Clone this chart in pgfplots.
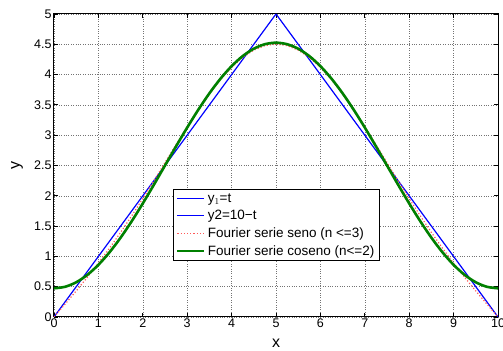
\documentclass[border=0pt]{standalone}
\usepackage{pgfplots}
\pgfplotsset{compat=1.18}
\usepackage{fontspec}
\setmainfont{Liberation Sans}

\definecolor{mblue}{rgb}{0,0,1}
\definecolor{mgreen}{rgb}{0,0.5,0}
\definecolor{mred}{rgb}{1,0,0}

\begin{document}
\begin{tikzpicture}[x=1pt,y=1pt]
\begin{axis}[
  scale only axis,
  width=444pt, height=303pt,
  xmin=0, xmax=10, ymin=0, ymax=5,
  xtick={0,1,...,10},
  ytick={0,0.5,...,5},
  yticklabels={0,0.5,1,1.5,2,2.5,3,3.5,4,4.5,5},
  tick align=inside,
  tick pos=both,
  major tick length=4pt,
  grid=major,
  grid style={dotted, black!55, line width=0.5pt},
  axis line style={line width=1pt},
  every tick/.style={black, line width=0.8pt},
  tick label style={font=\fontsize{12.5}{15}\selectfont},
  xticklabel style={yshift=1.5pt},
  yticklabel style={xshift=1pt},
  /pgf/number format/assume math mode=true,
  xlabel={x}, ylabel={y},
  every axis x label/.style={at={([yshift=-26pt]axis description cs:0.5,0)},
    anchor=center, font=\fontsize{16}{18}\selectfont},
  every axis y label/.style={at={([xshift=-37pt]axis description cs:0,0.5)},
    anchor=center, rotate=90, font=\fontsize{16}{18}\selectfont},
  legend style={
    at={(axis cs:2.68,2.11)}, anchor=north west,
    font=\fontsize{13.5}{15}\selectfont,
    draw=black,
    inner xsep=3pt, inner ysep=2pt,
    row sep=2.5pt,
    cells={anchor=west},
  },
  % re-issue the series' stroke colour before each sample line
  legend image code/.code={
    \colorlet{legstroke}{pgfstrokecolor}%
    \pgfsetstrokecolor{white}%
    \pgfsetstrokecolor{legstroke}%
    \draw[#1] (0pt,0pt) -- (27pt,0pt);
  },
]
% y1 = t
\addplot[draw=mblue, line width=1.2pt] coordinates {(0,0) (5,5)};
\addlegendentry{y$_1$=t}
% y2 = 10 - t
\addplot[draw=mblue, line width=1.2pt] coordinates {(5,5) (10,0)};
\addlegendentry{y2=10\textminus t}
% sine series, n <= 3
\addplot[draw=mred!65, dotted, line width=1.2pt] coordinates {
(0,0) (0.25,0.2129) (0.5,0.4296) (0.75,0.6537) (1,0.8881) (1.25,1.1349)
(1.5,1.3952) (1.75,1.6687) (2,1.9539) (2.25,2.2481) (2.5,2.5474)
(2.75,2.8465) (3,3.1396) (3.25,3.4203) (3.5,3.6815) (3.75,3.9166)
(4,4.1191) (4.25,4.2833) (4.5,4.4042) (4.75,4.4782) (5,4.5031)
(5.25,4.4782) (5.5,4.4042) (5.75,4.2833) (6,4.1191) (6.25,3.9166)
(6.5,3.6815) (6.75,3.4203) (7,3.1396) (7.25,2.8465) (7.5,2.5474)
(7.75,2.2481) (8,1.9539) (8.25,1.6687) (8.5,1.3952) (8.75,1.1349)
(9,0.8881) (9.25,0.6537) (9.5,0.4296) (9.75,0.2129) (10,0)
};
\addlegendentry{Fourier serie seno (n <=3)}
% cosine series, n <= 2
\addplot[draw=mgreen, line width=2.6pt, smooth] coordinates {
(0,0.4736) (0.25,0.4985) (0.5,0.5728) (0.75,0.6944) (1,0.8606) (1.25,1.0671)
(1.5,1.3089) (1.75,1.5800) (2,1.8738) (2.25,2.1830) (2.5,2.5)
(2.75,2.8170) (3,3.1262) (3.25,3.4200) (3.5,3.6911) (3.75,3.9329)
(4,4.1394) (4.25,4.3056) (4.5,4.4273) (4.75,4.5015) (5,4.5264)
(5.25,4.5015) (5.5,4.4273) (5.75,4.3056) (6,4.1394) (6.25,3.9329)
(6.5,3.6911) (6.75,3.4200) (7,3.1262) (7.25,2.8170) (7.5,2.5)
(7.75,2.1830) (8,1.8738) (8.25,1.5800) (8.5,1.3089) (8.75,1.0671)
(9,0.8606) (9.25,0.6944) (9.5,0.5728) (9.75,0.4985) (10,0.4736)
};
\addlegendentry{Fourier serie coseno (n<=2)}
\end{axis}
\pgfresetboundingbox
\useasboundingbox (current axis.south west) ++(-54,-34) rectangle ([xshift=5pt,yshift=14pt]current axis.north east);
\end{tikzpicture}
\end{document}
